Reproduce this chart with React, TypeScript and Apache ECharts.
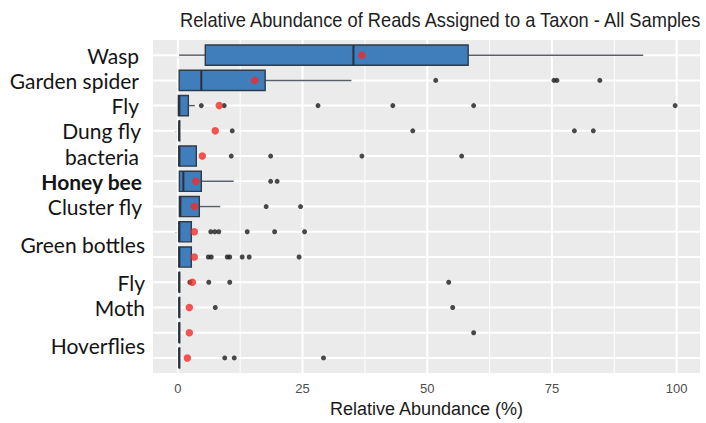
import React, { useEffect, useRef } from "react";
import * as echarts from "echarts";

// Rows (top to bottom)
const rows = ["Wasp", "Garden spider", "Fly", "Dung fly", "bacteria", "Honey bee", "Cluster fly", "Green bottles A", "Green bottles B", "Fly 2", "Moth", "Hoverflies A", "Hoverflies B"];
// Axis labels and their row positions
const labelPositions = [0, 1, 2, 3, 4, 5, 6, 7.5, 9, 10, 11.5];
const labelTexts = ["Wasp", "Garden spider", "Fly", "Dung fly", "bacteria", "Honey bee", "Cluster fly", "Green bottles", "Fly", "Moth", "Hoverflies"];
const labelStyles = ["p6", "p6", "p6", "p4", "p6", "b3", "p3", "p0", "p0", "p0", "p0"];

// Box statistics
const lows = [0.26, 0.26, 0.1, 0.26, 0.2, 0.3, 0.3, 0.2, 0.2, 0.26, 0.26, 0.26, 0.26];
const q1s = [5.5, 0.26, 0.1, 0.26, 0.2, 0.3, 0.3, 0.2, 0.2, 0.26, 0.26, 0.26, 0.26];
const medians = [35.2, 4.7, 0.3, 0.26, 0.3, 1.1, 0.5, 0.3, 0.3, 0.26, 0.26, 0.26, 0.26];
const q3s = [58.2, 17.5, 2.1, 0.26, 3.7, 4.7, 4.3, 2.7, 2.7, 0.26, 0.26, 0.26, 0.26];
const highs = [93.3, 34.8, 3.4, 0.26, 3.7, 11.2, 8.5, 2.7, 2.7, 0.26, 0.26, 0.26, 0.26];
const means = [36.9, 15.4, 8.3, 7.5, 4.9, 3.6, 3.3, 3.3, 3.3, 2.9, 2.3, 2.3, 1.9];
const outliers = [
  [],
  [51.7, 75.4, 76.0, 84.6],
  [4.7, 9.3, 28.1, 43.1, 59.3, 99.7],
  [10.9, 47.1, 79.5, 83.3],
  [10.7, 18.6, 36.9, 56.9],
  [18.6, 19.9],
  [17.7, 24.6],
  [6.6, 7.4, 8.2, 13.9, 19.4, 25.4],
  [6.1, 6.7, 9.9, 10.4, 12.9, 14.3, 24.3],
  [2.4, 6.2, 10.4, 54.3],
  [7.5, 55.1],
  [59.3],
  [9.4, 11.3, 29.2],
];

// Axis ticks
const xTicks = [0, 25, 50, 75, 100];
const xMinorGrid = [12.5, 37.5, 62.5, 87.5];
const rowTicks = rows.map((_, i) => i);

const X_MIN = -4.985;
const X_MAX = 104.685;
const Y_MIN = -0.6;
const Y_MAX = rows.length - 1 + 0.6;

const SANS = "'Liberation Sans', Arial, sans-serif";

export default function App() {
  const ref = useRef<HTMLDivElement>(null);
  useEffect(() => {
    if (!ref.current) return;
    const chart = echarts.init(ref.current, null, { renderer: "svg" });

    const gridData: any[] = [];
    xTicks.forEach((v) => gridData.push([v, 0, 0]));
    xMinorGrid.forEach((v) => gridData.push([v, 0, 1]));
    rowTicks.forEach((v) => gridData.push([0, v, 2]));

    const outlierData: number[][] = [];
    outliers.forEach((arr, i) => arr.forEach((v) => outlierData.push([v, i])));

    const labelMap: Record<string, string> = {};
    labelPositions.forEach((p, i) => {
      labelMap[String(p)] = `{${labelStyles[i]}|${labelTexts[i]}}`;
    });

    const labelBase = { fontFamily: "Lato", fontSize: 21, color: "#141414" };

    chart.setOption({
      animation: false,
      backgroundColor: "#ffffff",
      graphic: [
        {
          type: "text",
          x: 180,
          y: 9,
          scaleX: 0.87,
          style: {
            text: "Relative Abundance of Reads Assigned to a Taxon - All Samples",
            fontFamily: SANS,
            fontSize: 21,
            fill: "#1e1e1e",
            textVerticalAlign: "top",
          },
        },
      ],
      grid: {
        left: 153,
        right: 6,
        top: 40,
        bottom: 49,
        show: true,
        backgroundColor: "#EBEBEB",
        borderWidth: 0,
      },
      xAxis: {
        type: "value",
        min: X_MIN,
        max: X_MAX,
        name: "Relative Abundance (%)",
        nameLocation: "middle",
        nameGap: 26,
        nameTextStyle: { fontFamily: SANS, fontSize: 18, color: "#1a1a1a" },
        axisLine: { show: false },
        splitLine: { show: false },
        axisTick: { show: true, length: 3, customValues: xTicks, lineStyle: { color: "#333", width: 1 } },
        axisLabel: {
          customValues: xTicks,
          margin: 9,
          fontFamily: SANS,
          fontSize: 13,
          color: "#4d4d4d",
        },
      },
      yAxis: {
        type: "value",
        min: Y_MIN,
        max: Y_MAX,
        inverse: true,
        axisLine: { show: false },
        splitLine: { show: false },
        axisTick: { show: true, length: 3, customValues: rowTicks, lineStyle: { color: "#333", width: 1 } },
        axisLabel: {
          customValues: labelPositions,
          margin: 8,
          formatter: (v: number) => labelMap[String(v)] || "",
          rich: {
            p0: { ...labelBase },
            p3: { ...labelBase, padding: [0, 3, 0, 0] },
            p4: { ...labelBase, padding: [0, 4, 0, 0] },
            p6: { ...labelBase, padding: [0, 6, 0, 0] },
            b3: { ...labelBase, fontWeight: "bold", padding: [0, 3, 0, 0] },
          },
        },
      },
      series: [
        {
          type: "custom",
          name: "gridlines",
          silent: true,
          z: 1,
          data: gridData,
          renderItem: (params: any, api: any) => {
            const v0 = api.value(0);
            const v1 = api.value(1);
            const kind = api.value(2);
            if (kind === 2) {
              const a = api.coord([X_MIN, v1]);
              const b = api.coord([X_MAX, v1]);
              return { type: "line", shape: { x1: a[0], y1: a[1], x2: b[0], y2: b[1] }, style: { stroke: "#ffffff", lineWidth: 2 } };
            }
            const a = api.coord([v0, Y_MIN]);
            const b = api.coord([v0, Y_MAX]);
            return {
              type: "line",
              shape: { x1: a[0], y1: a[1], x2: b[0], y2: b[1] },
              style: { stroke: "#ffffff", lineWidth: kind === 0 ? 2 : 1 },
            };
          },
          encode: { x: 0, y: 1 },
        },
        {
          type: "custom",
          name: "boxes",
          z: 2,
          data: rows.map((_, i) => [q1s[i], i]),
          encode: { x: 0, y: 1 },
          renderItem: (params: any, api: any) => {
            const i = params.dataIndex;
            const h = api.size([0, 1])[1] * 0.8;
            const pLo = api.coord([lows[i], i]);
            const pQ1 = api.coord([q1s[i], i]);
            const pMed = api.coord([medians[i], i]);
            const pQ3 = api.coord([q3s[i], i]);
            const pHi = api.coord([highs[i], i]);
            const y = pQ1[1];
            const whisker = { stroke: "#55606b", lineWidth: 1.5 };
            return {
              type: "group",
              children: [
                { type: "line", shape: { x1: pLo[0], y1: y, x2: pQ1[0], y2: y }, style: whisker },
                { type: "line", shape: { x1: pQ3[0], y1: y, x2: pHi[0], y2: y }, style: whisker },
                {
                  type: "rect",
                  shape: { x: pQ1[0], y: y - h / 2, width: Math.max(pQ3[0] - pQ1[0], 0.5), height: h },
                  style: { fill: "#3f7dbb", stroke: "#2f3b47", lineWidth: 1.4 },
                },
                { type: "line", shape: { x1: pMed[0], y1: y - h / 2, x2: pMed[0], y2: y + h / 2 }, style: { stroke: "#28313b", lineWidth: 2 } },
              ],
            };
          },
        },
        {
          type: "scatter",
          name: "outliers",
          z: 3,
          symbol: "circle",
          symbolSize: 5,
          itemStyle: { color: "#1b1b1b" },
          data: outlierData,
        },
        {
          type: "scatter",
          name: "means",
          z: 4,
          symbol: "circle",
          symbolSize: 7.5,
          itemStyle: { color: "#f52a25" },
          data: means.map((v, i) => [v, i]),
        },
      ],
    });
    return () => chart.dispose();
  }, []);
  return <div ref={ref} style={{ position: "fixed", left: 0, top: 0, width: 706, height: 423 }} />;
}
